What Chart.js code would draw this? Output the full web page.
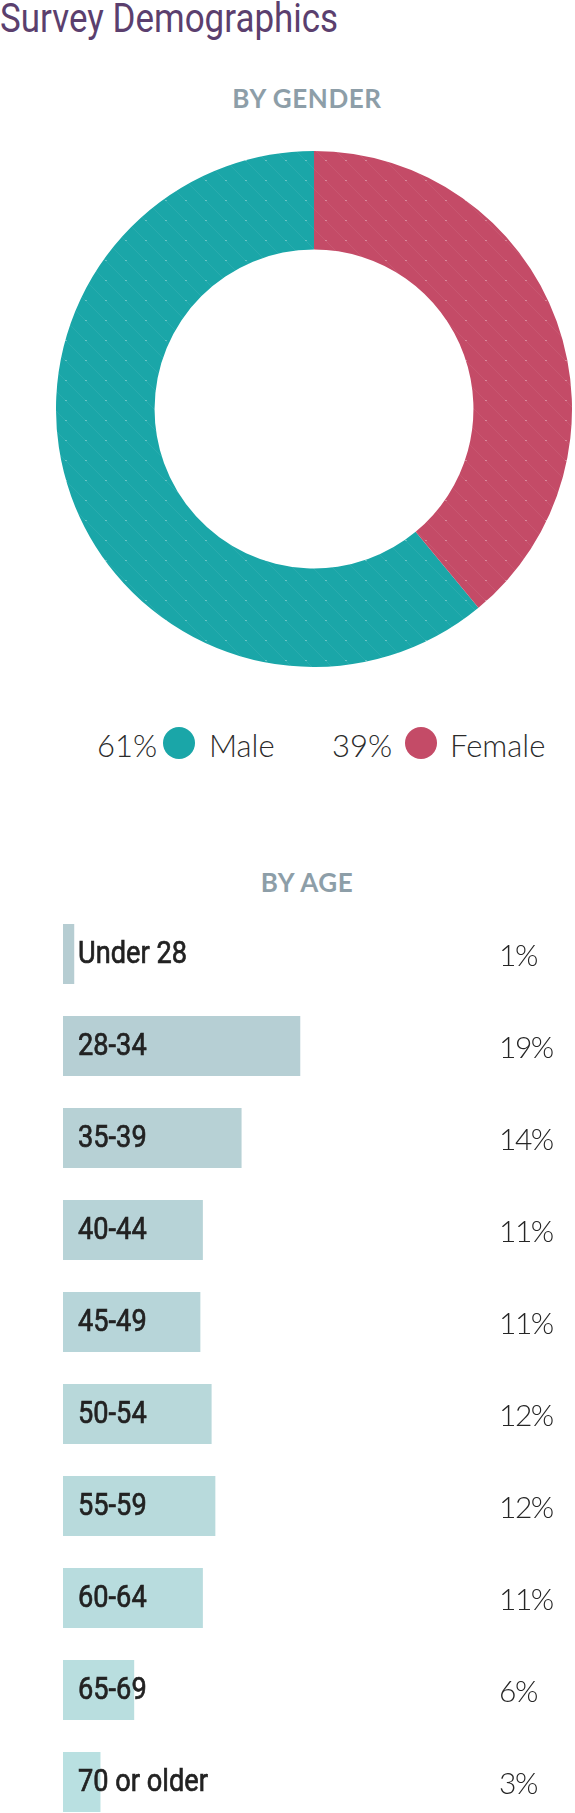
<!DOCTYPE html>
<html>
<head>
<meta charset="utf-8">
<script src="https://cdn.jsdelivr.net/npm/chart.js@4.4.0/dist/chart.umd.min.js"></script>
<style>
  html, body { margin: 0; padding: 0; background: #fff; }
  body { width: 575px; height: 1813px; overflow: hidden; position: relative; }
  .title {
    position: absolute; left: 0; top: -6px;
    font: 400 41px Roboto, sans-serif; color: #5b3f6e;
    transform: scaleX(0.853); transform-origin: 0 0; white-space: nowrap;
  }
  .heading {
    position: absolute; left: 0; width: 614px; text-align: center;
    font: 700 26px Lato, sans-serif; color: #8d9ea8; letter-spacing: 0.6px;
  }
  .legend span { position: absolute; top: 726px; line-height: 34px; font: 300 31px Lato, sans-serif; color: #2b2b2b; white-space: nowrap; }
  .legend .dot { top: 727px; width: 32px; height: 32px; border-radius: 50%; }
  canvas { position: absolute; }
</style>
</head>
<body>
<div class="title">Survey Demographics</div>
<div class="heading" style="top: 82px">BY GENDER</div>
<canvas id="genderChart" width="516" height="516" style="left: 56px; top: 151px"></canvas>
<div class="legend" id="genderLegend"></div>
<div class="heading" style="top: 866px">BY AGE</div>
<canvas id="ageChart" width="575" height="920" style="left: 0; top: 908px"></canvas>

<script>
// Gender split (percent)
const genderLabels = ['Male', 'Female'];
const genderValues = [61, 39];
const genderColors = ['#1aa6a8', '#c44b67'];

// Age groups (percent)
const ageLabels = ['Under 28', '28-34', '35-39', '40-44', '45-49', '50-54', '55-59', '60-64', '65-69', '70 or older'];
const ageValues = [0.9, 19.0, 14.3, 11.2, 11.0, 11.9, 12.2, 11.2, 5.7, 3.0];

// Left edges of the legend pieces: [percent, dot, name]
const legendX = [[97, 163, 209], [332, 405, 450]];

/**
 * Fills a small tile with a flat colour plus faint dotted diagonals
 * @param {string} color Base colour
 */
function makePattern(color) {
  const tile = document.createElement('canvas');
  tile.width = 20;
  tile.height = 20;
  const c = tile.getContext('2d');
  c.fillStyle = color;
  c.fillRect(0, 0, 20, 20);
  c.strokeStyle = 'rgba(255,255,255,0.07)';
  c.lineWidth = 1;
  c.beginPath();
  c.moveTo(-2, -2);
  c.lineTo(22, 22);
  c.stroke();
  c.fillStyle = 'rgba(255,255,255,0.3)';
  c.fillRect(9, 9, 2, 1);
  return c.createPattern(tile, 'repeat');
}

// Legend built from the gender arrays
const legend = document.getElementById('genderLegend');
genderLabels.forEach((label, i) => {
  const [pctX, dotX, nameX] = legendX[i];
  legend.insertAdjacentHTML('beforeend',
    `<span style="left:${pctX}px">${genderValues[i]}%</span>`
    + `<span class="dot" style="left:${dotX}px;background:${genderColors[i]}"></span>`
    + `<span style="left:${nameX}px">${label}</span>`);
});

// Female slice starts at 12 o'clock, so turn the male slice past it
const femaleShare = genderValues[1] / (genderValues[0] + genderValues[1]);

new Chart(document.getElementById('genderChart'), {
  type: 'doughnut',
  data: {
    labels: genderLabels,
    datasets: [{
      data: genderValues,
      backgroundColor: genderColors.map(makePattern),
      borderWidth: 0,
    }],
  },
  options: {
    responsive: false,
    devicePixelRatio: 1,
    animation: false,
    cutout: '61.8%',
    rotation: femaleShare * 360,
    plugins: { legend: { display: false }, tooltip: { enabled: false } },
  },
});

// Bars fade from grey-blue at the top to light teal at the bottom
function barColor(ctx) {
  const t = ctx.dataIndex / (ageValues.length - 1);
  const from = [182, 205, 210];
  const to = [185, 224, 225];
  const rgb = from.map((v, k) => Math.round(v + (to[k] - v) * t));
  return `rgb(${rgb.join(',')})`;
}

// Category names inside the bars, percentages on the right
const barLabels = {
  id: 'barLabels',
  afterDatasetsDraw(chart) {
    const { ctx, chartArea } = chart;
    const bars = chart.getDatasetMeta(0).data;
    bars.forEach((bar, i) => {
      ctx.save();
      ctx.fillStyle = '#222';
      ctx.strokeStyle = '#222';
      ctx.lineWidth = 0.7;
      ctx.textBaseline = 'alphabetic';
      ctx.font = '400 32px Roboto';
      ctx.translate(chartArea.left + 15, bar.y + 9);
      ctx.scale(0.85, 1);
      ctx.fillText(ageLabels[i], 0, 0);
      ctx.strokeText(ageLabels[i], 0, 0);
      ctx.restore();

      ctx.save();
      ctx.fillStyle = '#262626';
      ctx.font = '300 30px Lato';
      ctx.letterSpacing = '-1.5px';
      ctx.fillText(`${Math.round(ageValues[i])}%`, 499, bar.y + 12);
      ctx.restore();
    });
  },
};

new Chart(document.getElementById('ageChart'), {
  type: 'bar',
  data: {
    labels: ageLabels,
    datasets: [{
      data: ageValues,
      backgroundColor: barColor,
      borderWidth: 0,
      barPercentage: 60 / 92,
      categoryPercentage: 1,
    }],
  },
  options: {
    indexAxis: 'y',
    responsive: false,
    devicePixelRatio: 1,
    animation: false,
    layout: { padding: { left: 63, right: 0, top: 0, bottom: 0 } },
    scales: {
      x: { display: false, min: 0, max: 41 },
      y: { display: false },
    },
    plugins: { legend: { display: false }, tooltip: { enabled: false } },
  },
  plugins: [barLabels],
});
</script>
</body>
</html>
